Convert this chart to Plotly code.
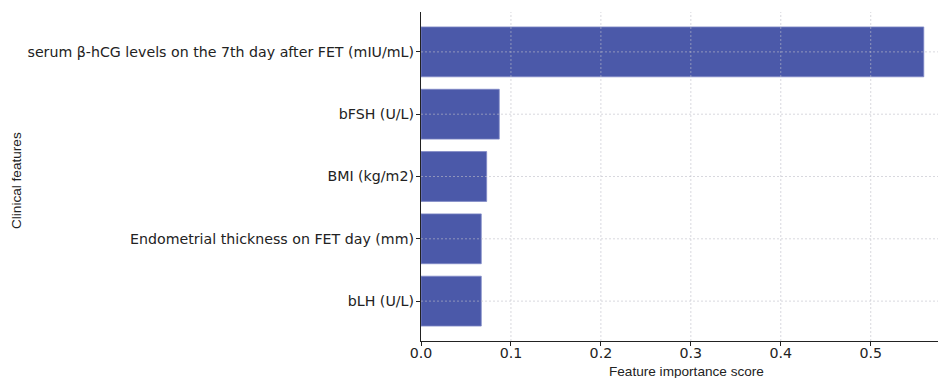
import plotly.graph_objects as go

# Feature importance of clinical features (bottom to top)
features = [
    "bLH (U/L)",
    "Endometrial thickness on FET day (mm)",
    "BMI (kg/m2)",
    "bFSH (U/L)",
    "serum β-hCG levels on the 7th day after FET (mIU/mL)",
]
importance = [0.067, 0.067, 0.073, 0.087, 0.559]

x_ticks = [0.0, 0.1, 0.2, 0.3, 0.4, 0.5]
x_tick_text = ["0.0", "0.1", "0.2", "0.3", "0.4", "0.5"]

W, H = 938, 378
ML, MR, MT, MB = 421, 0, 12, 37
GRID = "rgba(190,190,200,0.6)"
GRID_DASH = "2px,2px"

fig = go.Figure(
    go.Bar(
        x=importance,
        y=list(range(len(features))),
        orientation="h",
        width=0.8,
        marker=dict(color="#4B59A9", line=dict(color="#8089C6", width=0.8)),
        hoverinfo="x+text",
        hovertext=features,
    )
)

fig.update_layout(
    width=W,
    height=H,
    margin=dict(l=ML, r=MR, t=MT, b=MB),
    plot_bgcolor="white",
    paper_bgcolor="white",
    showlegend=False,
    font=dict(family="DejaVu Sans", size=14, color="#222"),
)

fig.update_xaxes(
    range=[0, 0.5748],
    tickvals=x_ticks,
    ticktext=x_tick_text,
    ticks="outside",
    ticklen=4,
    tickcolor="#222",
    showline=True,
    linecolor="#222",
    linewidth=1.3,
    showgrid=False,
    zeroline=False,
    layer="above traces",
    ticklabelstandoff=-5,
    tickfont=dict(family="DejaVu Sans", size=14.2, color="#222"),
)

fig.update_yaxes(
    range=[-0.64, 4.64],
    tickvals=list(range(len(features))),
    ticktext=features,
    ticks="outside",
    ticklen=4,
    tickcolor="#222",
    showline=True,
    linecolor="#222",
    linewidth=1.3,
    showgrid=False,
    zeroline=False,
    layer="above traces",
    ticklabelstandoff=-1,
    tickfont=dict(family="DejaVu Sans", size=14.2, color="#222"),
)

# Dashed grid drawn on top of the bars
for t in x_ticks[1:]:
    fig.add_shape(
        type="line", xref="x", yref="paper", x0=t, x1=t, y0=0, y1=1,
        line=dict(color=GRID, width=1, dash=GRID_DASH), layer="above",
    )
for i in range(len(features)):
    fig.add_shape(
        type="line", xref="paper", yref="y", x0=0, x1=1, y0=i, y1=i,
        line=dict(color=GRID, width=1, dash=GRID_DASH), layer="above",
    )

# Axis titles
fig.add_annotation(
    text="Feature importance score",
    xref="paper", yref="paper",
    x=(686 - ML) / (W - ML - MR), y=-(371 - (H - MB)) / (H - MT - MB),
    xanchor="center", yanchor="middle",
    showarrow=False,
    font=dict(family="Liberation Sans", size=13.6, color="#222"),
)
fig.add_annotation(
    text="Clinical features",
    xref="paper", yref="paper",
    x=-(ML - 17) / (W - ML - MR), y=(H - MB - 181) / (H - MT - MB),
    xanchor="center", yanchor="middle",
    textangle=-90,
    showarrow=False,
    font=dict(family="Liberation Sans", size=13.6, color="#222"),
)

fig.write_html("out.html")
